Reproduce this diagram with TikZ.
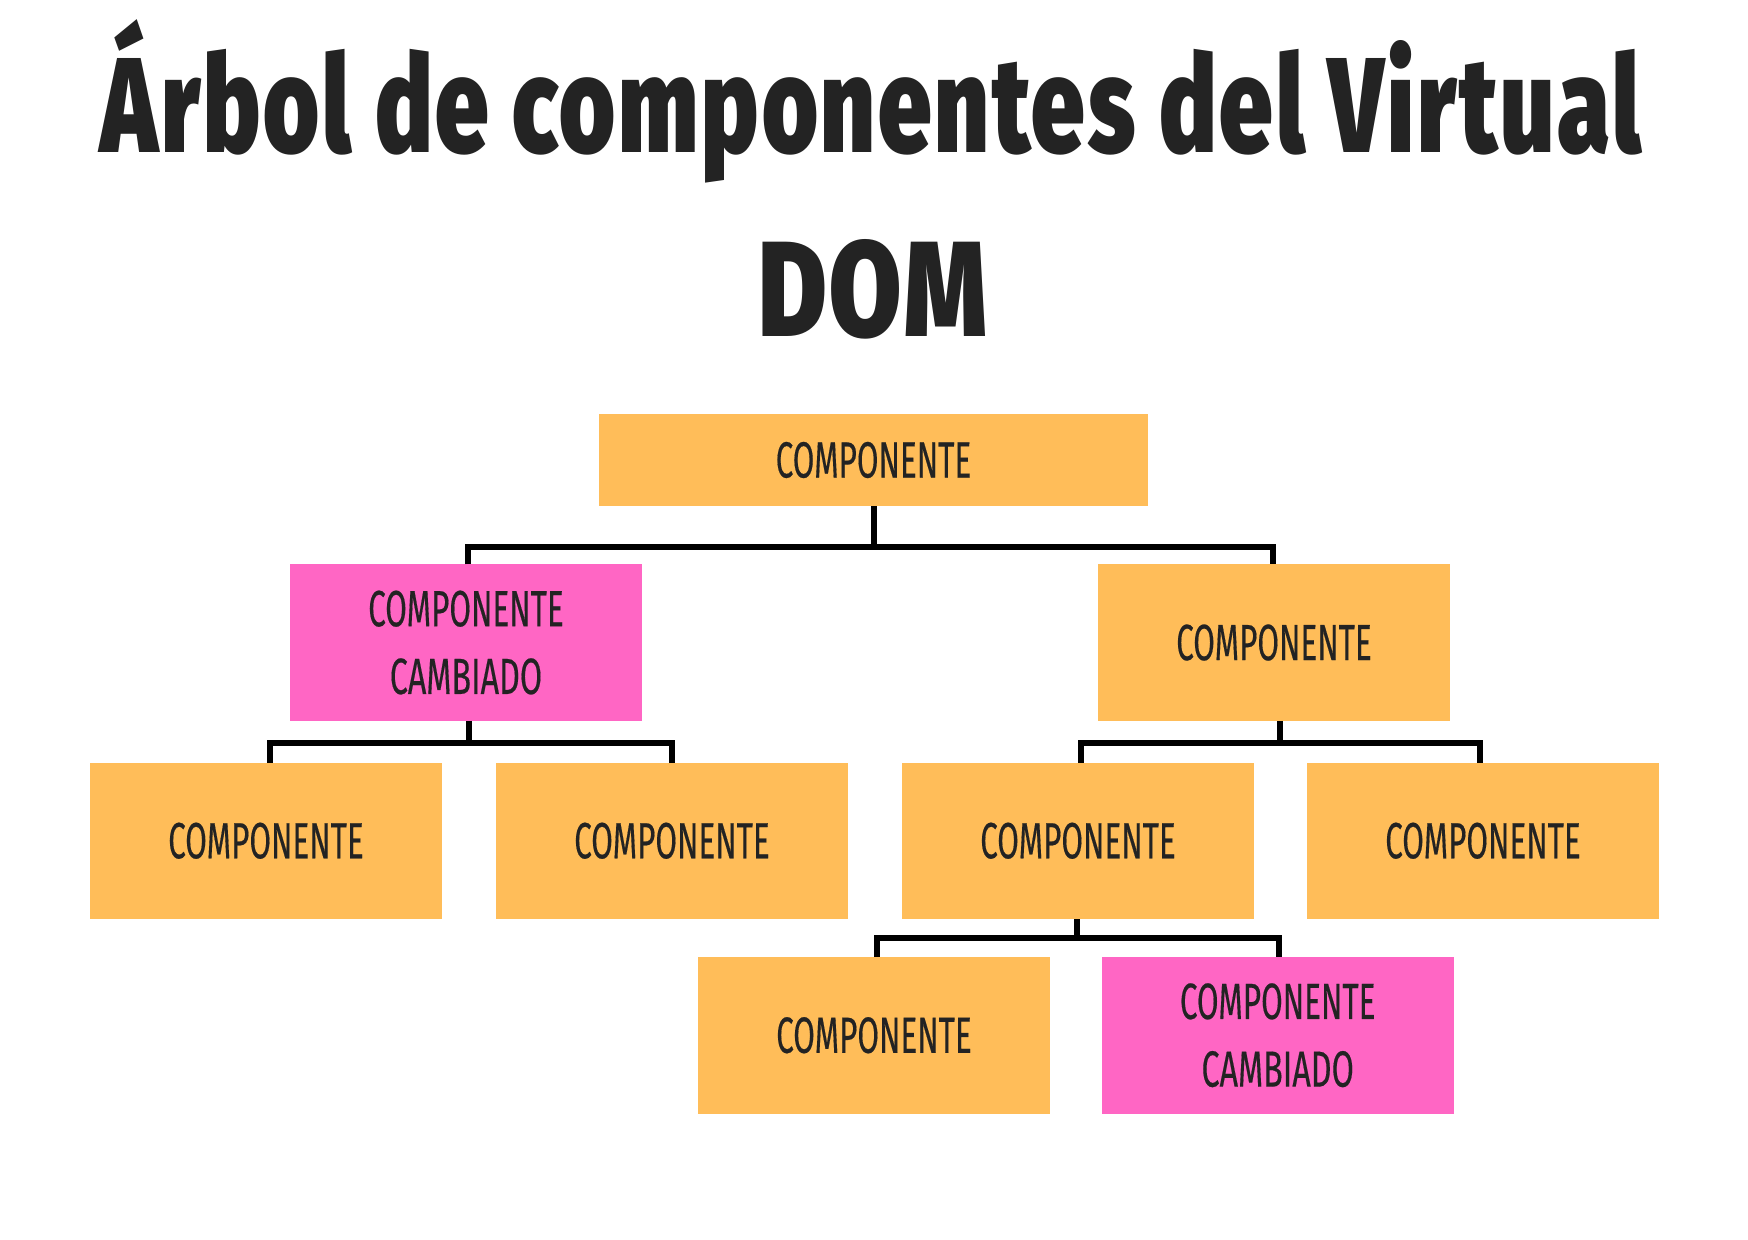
\documentclass[tikz,border=0pt]{standalone}
\usepackage{fontspec}
\usepackage{graphicx}
\newfontfamily\titlefont{Fira Sans Black}[LetterSpace=3]
\newfontfamily\boxfont{Fira Sans}[FakeBold=0.4]
\definecolor{orangebox}{HTML}{FFBD59}
\definecolor{pinkbox}{HTML}{FF66C4}
\definecolor{ink}{HTML}{232323}
\newcommand{\comptxt}{\resizebox{97.75pt}{17.5pt}{\boxfont\vphantom{H}\smash{COMPONENTE}}}
\newcommand{\cambtxt}{\resizebox{76.2pt}{17.5pt}{\boxfont\vphantom{H}\smash{CAMBIADO}}}
\begin{document}
\begin{tikzpicture}[x=0.5pt,y=-0.5pt,
  compbox/.style={fill=orangebox, inner sep=0pt, outer sep=0pt, minimum width=176pt, minimum height=78.25pt, text=ink, anchor=north west},
  changedbox/.style={compbox, fill=pinkbox, align=center, font=\fontsize{10pt}{33.85pt}\selectfont},
  conn/.style={draw=black, line width=3pt, line join=miter},
  titletext/.style={inner sep=0pt, outer sep=0pt, text=ink}]
\fill[white] (0,0) rectangle (1748,1240);
\useasboundingbox (0,0) rectangle (1748,1240);

% title
\node[titletext] (t1) at (870.9,105.3) {\resizebox{770pt}{47pt}{\titlefont\vphantom{H}\smash{Árbol de componentes del Virtual}}};
\node[titletext] (t2) at (872.5,288.9) {\resizebox{114.2pt}{47.15pt}{\titlefont\vphantom{H}\smash{DOM}}};

% boxes
\node[compbox, minimum width=274.5pt, minimum height=46pt] (root) at (599,414) {\comptxt};
\node[changedbox] (n2a) at (290,564.3) {\comptxt\\\cambtxt};
\node[compbox] (n2b) at (1098,564.3) {\comptxt};
\node[compbox] (n3a) at (90,762.5) {\comptxt};
\node[compbox] (n3b) at (496,762.5) {\comptxt};
\node[compbox] (n3c) at (902,762.5) {\comptxt};
\node[compbox] (n3d) at (1307,762.5) {\comptxt};
\node[compbox] (n4a) at (698,957) {\comptxt};
\node[changedbox] (n4b) at (1101.7,957) {\comptxt\\\cambtxt};

% connectors
\coordinate (b1) at (873.5,547);
\draw[conn] (root.south) -- (b1);
\draw[conn] ([xshift=1.1pt]n2a.north) |- (b1) -| ([xshift=-0.5pt]n2b.north);

\coordinate (b2) at (468.7,743);
\draw[conn] (b2 |- n2a.south) -- (b2);
\draw[conn] ([xshift=1.9pt]n3a.north) |- (b2) -| (n3b.north);

\coordinate (b3) at (1280,743);
\draw[conn] (b3 |- n2b.south) -- (b3);
\draw[conn] ([xshift=1.25pt]n3c.north) |- (b3) -| ([xshift=-1.3pt]n3d.north);

\coordinate (b4) at (1077.3,938.3);
\draw[conn] (b4 |- n3c.south) -- (b4);
\draw[conn] ([xshift=1.65pt]n4a.north) |- (b4) -| ([xshift=0.8pt]n4b.north);
\end{tikzpicture}
\end{document}
